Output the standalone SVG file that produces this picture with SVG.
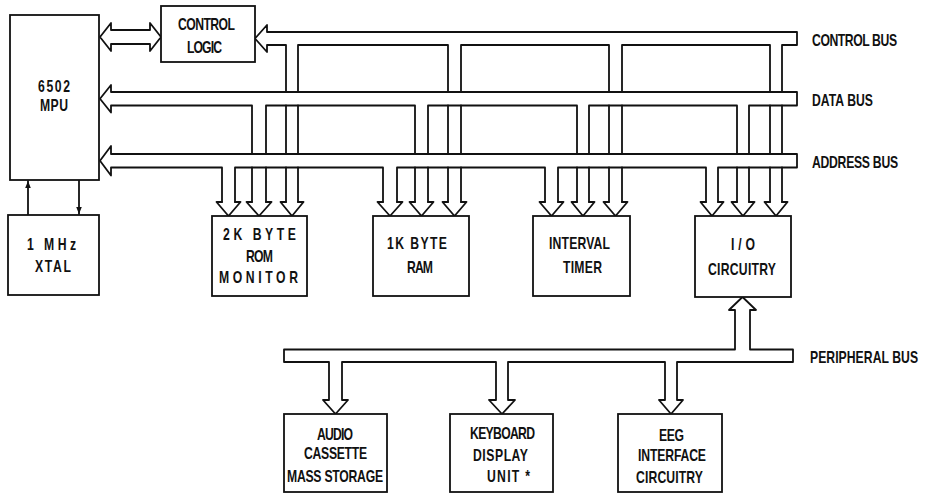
<svg xmlns="http://www.w3.org/2000/svg" width="925" height="494" viewBox="0 0 925 494">
<defs>
<style>
.b{fill:none;stroke:#111;stroke-width:1.8;stroke-linejoin:round;stroke-linecap:round}
.n{fill:#fff;stroke:#111;stroke-width:1.8}
text{font-family:"Liberation Sans",Arial,sans-serif;font-weight:bold;font-size:16.5px;fill:#111;text-anchor:middle}
.l{text-anchor:start}
</style>
<marker id="ah" viewBox="0 0 10 10" refX="10" refY="5" markerWidth="7" markerHeight="7" markerUnits="userSpaceOnUse" orient="auto">
<path d="M0,1 L10,5 L0,9 Z" fill="#111"/>
</marker>
</defs>
<rect width="925" height="494" fill="#fff"/>
<g id="connectors">
<path class="b" d="M111,30 H150 V23 L161,37 L150,51 V44 H111 V51 L100,37 L111,23 Z"/>
<path class="b" d="M267,45 V52 L255,38.5 L267,25 V32 H797 V45 H782 V92 M770,92 V45 H622 V92 M609,92 V45 H461 V92 M448,92 V45 H298 V92 M286,92 V45 H267"/>
<path class="b" d="M111,105.5 V112.5 L100,98.75 L111,85 V92 H797 V105.5 H749 V154 M737,154 V105.5 H589 V154 M577,154 V105.5 H428 V154 M415,154 V105.5 H266 V154 M252,154 V105.5 H111"/>
<path class="b" d="M286,105.5 V154 M298,105.5 V154 M448,105.5 V154 M461,105.5 V154 M609,105.5 V154 M622,105.5 V154 M770,105.5 V154 M782,105.5 V154"/>
<path class="b" d="M111,167.5 V175.5 L100,160.75 L111,146 V154 H797 V167.5 H718 V202 M706,202 V167.5 H558 V202 M545,202 V167.5 H397 V202 M383,202 V167.5 H235 V202 M222,202 V167.5 H111"/>
<path class="b" d="M252,167.5 V202 M266,167.5 V202 M286,167.5 V202 M298,167.5 V202 M415,167.5 V202 M428,167.5 V202 M448,167.5 V202 M461,167.5 V202 M577,167.5 V202 M589,167.5 V202 M609,167.5 V202 M622,167.5 V202 M737,167.5 V202 M749,167.5 V202 M770,167.5 V202 M782,167.5 V202"/>
<path class="b" d="M222,202 H216.5 L228.5,216 L240.5,202 H235 M252,202 H246.5 L259,216 L271.5,202 H266 M286,202 H280.5 L292,216 L303.5,202 H298"/>
<path class="b" d="M383,202 H377.5 L390,216 L402.5,202 H397 M415,202 H409.5 L421.5,216 L433.5,202 H428 M448,202 H442.5 L454.5,216 L466.5,202 H461"/>
<path class="b" d="M545,202 H539.5 L551.5,216 L563.5,202 H558 M577,202 H571.5 L583,216 L594.5,202 H589 M609,202 H603.5 L615.5,216 L627.5,202 H622"/>
<path class="b" d="M706,202 H700.5 L712,216 L723.5,202 H718 M737,202 H731.5 L743,216 L754.5,202 H749 M770,202 H764.5 L776,216 L787.5,202 H782"/>
<path class="b" d="M284,349.5 H735 V310 H729 L742.5,297 L756,310 H750 V349.5 H793 V362 H677 V400 H683 L671,414 L659,400 H665 V362 H508 V400 H515 L502,414 L489,400 H496 V362 H342 V400 H348 L335.5,414 L323,400 H329 V362 H284 Z"/>
<path class="b" d="M28,215 V181" marker-end="url(#ah)"/>
<path class="b" d="M79,180 V214" marker-end="url(#ah)"/>
<text class="l" transform="translate(812,46) scale(0.74,1)" textLength="114.9">CONTROL BUS</text>
<text class="l" transform="translate(812,106) scale(0.74,1)" textLength="82.4">DATA BUS</text>
<text class="l" transform="translate(812,168) scale(0.74,1)" textLength="116.3">ADDRESS BUS</text>
<text class="l" transform="translate(810,363) scale(0.74,1)" textLength="146">PERIPHERAL BUS</text>
</g>
<g id="mpu">
<rect class="n" x="10" y="15" width="89" height="165"/>
<text transform="translate(54,92) scale(0.74,1)" textLength="43.2">6502</text>
<text transform="translate(54,111) scale(0.74,1)" textLength="37.8">MPU</text>
</g>
<g id="control-logic">
<rect class="n" x="161" y="6" width="94" height="56"/>
<text transform="translate(206.5,30) scale(0.74,1)" textLength="77">CONTROL</text>
<text transform="translate(204.5,53) scale(0.74,1)" textLength="47.3">LOGIC</text>
</g>
<g id="xtal">
<rect class="n" x="8" y="215" width="91" height="80"/>
<text transform="translate(51.5,250) scale(0.74,1)" textLength="66.2">1 MHz</text>
<text transform="translate(53,272) scale(0.74,1)" textLength="48.7">XTAL</text>
</g>
<g id="rom">
<rect class="n" x="212" y="216" width="95" height="80"/>
<text transform="translate(259.5,240) scale(0.74,1)" textLength="98.6">2K BYTE</text>
<text transform="translate(259.5,262) scale(0.74,1)" textLength="36.5">ROM</text>
<text transform="translate(258.5,283) scale(0.74,1)" textLength="106.8">MONITOR</text>
</g>
<g id="ram">
<rect class="n" x="373" y="216" width="96" height="80"/>
<text transform="translate(417,249) scale(0.74,1)" textLength="81.1">1K BYTE</text>
<text transform="translate(420,273) scale(0.74,1)" textLength="35.1">RAM</text>
</g>
<g id="timer">
<rect class="n" x="533" y="216" width="97" height="80"/>
<text transform="translate(579.5,249) scale(0.74,1)" textLength="82.4">INTERVAL</text>
<text transform="translate(582.5,273) scale(0.74,1)" textLength="52.7">TIMER</text>
</g>
<g id="io">
<rect class="n" x="695" y="216" width="96" height="81"/>
<text transform="translate(743,250) scale(0.74,1)" textLength="32.5">I/O</text>
<text transform="translate(742,275) scale(0.74,1)" textLength="91.9">CIRCUITRY</text>
</g>
<g id="audio">
<rect class="n" x="284" y="414" width="103" height="78"/>
<text transform="translate(335,440) scale(0.74,1)" textLength="48.7">AUDIO</text>
<text transform="translate(335.5,459) scale(0.74,1)" textLength="85.2">CASSETTE</text>
<text transform="translate(335,482) scale(0.74,1)" textLength="129.8">MASS STORAGE</text>
</g>
<g id="keyboard">
<rect class="n" x="450" y="414" width="103" height="78"/>
<text transform="translate(502.5,439) scale(0.74,1)" textLength="87.8">KEYBOARD</text>
<text transform="translate(500.5,461) scale(0.74,1)" textLength="74.3">DISPLAY</text>
<text transform="translate(508.5,482) scale(0.74,1)" textLength="58.1">UNIT *</text>
</g>
<g id="eeg">
<rect class="n" x="618" y="414" width="104" height="78"/>
<text transform="translate(671.5,441) scale(0.74,1)" textLength="33.8">EEG</text>
<text transform="translate(672,461) scale(0.74,1)" textLength="91.9">INTERFACE</text>
<text transform="translate(669.5,483) scale(0.74,1)" textLength="90.5">CIRCUITRY</text>
</g>
</svg>
